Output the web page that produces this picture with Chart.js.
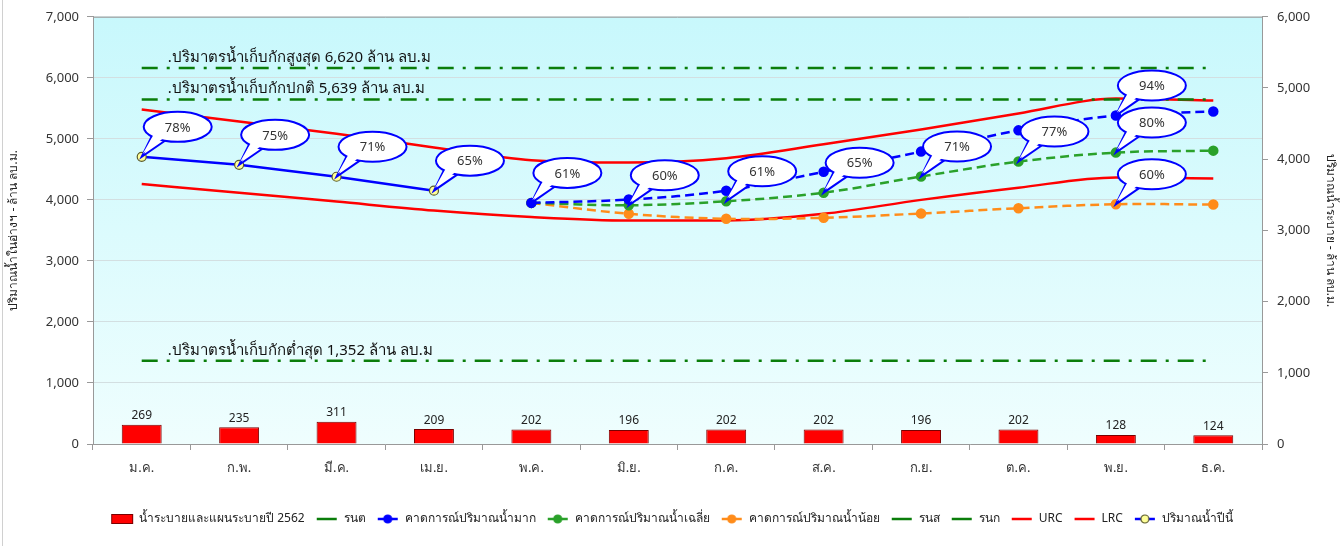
<!DOCTYPE html>
<html>
<head>
<meta charset="utf-8">
<script src="https://cdn.jsdelivr.net/npm/chart.js@4.4.1/dist/chart.umd.min.js"></script>
<style>
html, body { margin: 0; padding: 0; background: #fff; }
#wrap { position: relative; width: 1344px; height: 546px; }
</style>
</head>
<body>
<div id="wrap"><canvas id="myChart"></canvas></div>
<script>
// months
const months = ['ม.ค.', 'ก.พ.', 'มี.ค.', 'เม.ย.', 'พ.ค.', 'มิ.ย.', 'ก.ค.', 'ส.ค.', 'ก.ย.', 'ต.ค.', 'พ.ย.', 'ธ.ค.']

// released water (right axis)
const released = [269, 235, 311, 209, 202, 196, 202, 202, 196, 202, 128, 124]

// storage (left axis)
const thisYear     = [4705, 4574, 4379, 4151, null, null, null, null, null, null, null, null]
const highForecast = [null, null, null, null, 3951, 4005, 4151, 4460, 4791, 5139, 5383, 5448]
const avgForecast  = [null, null, null, null, 3951, 3912, 3977, 4118, 4384, 4628, 4775, 4807]
const lowForecast  = [null, null, null, null, 3951, 3772, 3690, 3707, 3777, 3863, 3929, 3923]
const urc = [5481, 5284, 5084, 4860, 4651, 4612, 4683, 4911, 5155, 5416, 5660, 5628]
const lrc = [4260, 4118, 3972, 3826, 3720, 3663, 3663, 3772, 4000, 4200, 4367, 4351]

// reference storage lines
const minLine    = [1365, 1365, 1365, 1365, 1365, 1365, 1365, 1365, 1365, 1365, 1365, 1365]
const maxLine    = [6160, 6160, 6160, 6160, 6160, 6160, 6160, 6160, 6160, 6160, 6160, 6160]
const normalLine = [5645, 5645, 5645, 5645, 5645, 5645, 5645, 5645, 5645, 5645, 5645, 5645]
const minText    = '.ปริมาตรน้ำเก็บกักต่ำสุด 1,352 ล้าน ลบ.ม'
const maxText    = '.ปริมาตรน้ำเก็บกักสูงสุด 6,620 ล้าน ลบ.ม'
const normalText = '.ปริมาตรน้ำเก็บกักปกติ 5,639 ล้าน ลบ.ม'

// percentage callouts
const pctThisYear = ['78%', '75%', '71%', '65%', null, null, null, null, null, null, null, null]
const pctHigh     = [null, null, null, null, null, null, null, null, null, null, '94%', null]
const pctAvg      = [null, null, null, null, '61%', '60%', '61%', '65%', '71%', '77%', '80%', null]
const pctLow      = [null, null, null, null, null, null, null, null, null, null, '60%', null]

const blueColor = '#0000ff'
const greenColor = '#2aa12a'
const orangeColor = '#ff8c1a'
const redColor = '#ff0000'
const refColor = '#0a7d0a'
const refDash = [16, 9, 3, 9]

Chart.defaults.font.family = "'Noto Sans', 'DejaVu Sans', sans-serif"
Chart.defaults.color = '#333'

function lineIcon(color, dash, fill, border) {
	var c = document.createElement('canvas')
	c.width = 22
	c.height = 12
	var g = c.getContext('2d')
	g.strokeStyle = color
	g.lineWidth = 2.5
	g.setLineDash(dash || [])
	g.beginPath()
	g.moveTo(1, 6)
	g.lineTo(21, 6)
	g.stroke()
	if (fill) {
		g.setLineDash([])
		g.beginPath()
		g.arc(11, 6, 4, 0, Math.PI * 2)
		g.fillStyle = fill
		g.fill()
		g.lineWidth = 1.2
		g.strokeStyle = border || fill
		g.stroke()
	}
	return c
}

function barIcon() {
	var c = document.createElement('canvas')
	c.width = 24
	c.height = 12
	var g = c.getContext('2d')
	g.fillStyle = redColor
	g.fillRect(1, 1, 22, 10)
	g.strokeStyle = '#7a0000'
	g.lineWidth = 1
	g.strokeRect(1.5, 1.5, 21, 9)
	return c
}

function refDataset(label, data, text) {
	return {
		type: 'line', label: label, data: data, yAxisID: 'y',
		borderColor: refColor, borderWidth: 2.5, borderDash: refDash,
		pointRadius: 0, fill: false, tension: 0,
		refText: text, legendIcon: lineIcon(refColor)
	}
}

function forecastDataset(label, data, color, pct) {
	return {
		type: 'line', label: label, data: data, yAxisID: 'y',
		borderColor: color, backgroundColor: color, borderWidth: 2.5, borderDash: [9, 5],
		pointRadius: 4, pointBackgroundColor: color, pointBorderColor: color,
		fill: false, tension: 0.35, spanGaps: false,
		pct: pct, legendIcon: lineIcon(color, [], color)
	}
}

// plot background + frame
const bgPlugin = {
	id: 'bgPlugin',
	beforeDraw(chart) {
		var ctx = chart.ctx
		var a = chart.chartArea
		ctx.save()
		var grad = ctx.createLinearGradient(0, a.top, 0, a.bottom)
		grad.addColorStop(0, '#c8f8fc')
		grad.addColorStop(1, '#effefe')
		ctx.fillStyle = grad
		ctx.fillRect(a.left, a.top, a.right - a.left, a.bottom - a.top)
		ctx.strokeStyle = '#d0d0d0'
		ctx.lineWidth = 1
		ctx.beginPath()
		ctx.moveTo(2.5, 0)
		ctx.lineTo(2.5, chart.height)
		ctx.stroke()
		ctx.restore()
	},
	afterDraw(chart) {
		var ctx = chart.ctx
		var a = chart.chartArea
		ctx.save()
		ctx.strokeStyle = '#a0a0a0'
		ctx.lineWidth = 1
		ctx.beginPath()
		ctx.moveTo(a.left, a.top + 0.5)
		ctx.lineTo(a.right, a.top + 0.5)
		ctx.stroke()
		ctx.restore()
	}
}

// bar values, reference labels and callouts
const labelPlugin = {
	id: 'labelPlugin',
	afterDatasetsDraw(chart) {
		var ctx = chart.ctx
		ctx.save()
		chart.data.datasets.forEach(function(ds, i) {
			var meta = chart.getDatasetMeta(i)
			if (ds.type === 'bar') {
				ctx.font = "12px 'Noto Sans', 'DejaVu Sans', sans-serif"
				ctx.fillStyle = '#222'
				ctx.textAlign = 'center'
				ctx.textBaseline = 'bottom'
				meta.data.forEach(function(el, j) {
					ctx.fillText(ds.data[j], el.x, el.y - 3)
				})
			}
			if (ds.refText) {
				var p = meta.data[0]
				ctx.font = "15px 'Noto Sans', 'DejaVu Sans', sans-serif"
				ctx.fillStyle = '#111'
				ctx.textAlign = 'left'
				ctx.textBaseline = 'alphabetic'
				ctx.fillText(ds.refText, p.x + 26, p.y - 6)
			}
		})
		chart.data.datasets.forEach(function(ds, i) {
			if (!ds.pct) return
			var meta = chart.getDatasetMeta(i)
			meta.data.forEach(function(el, j) {
				if (!ds.pct[j]) return
				drawBubble(ctx, el.x, el.y, ds.pct[j])
			})
		})
		ctx.restore()
	}
}

function drawBubble(ctx, px, py, text) {
	var cx = px + 36, cy = py - 30, rx = 34, ry = 15
	var a1 = 112 * Math.PI / 180, a2 = 140 * Math.PI / 180
	var b1x = cx + rx * Math.cos(a1), b1y = cy + ry * Math.sin(a1)
	var b2x = cx + rx * Math.cos(a2), b2y = cy + ry * Math.sin(a2)
	ctx.lineWidth = 2
	ctx.strokeStyle = blueColor
	ctx.fillStyle = '#ffffff'
	ctx.beginPath()
	ctx.moveTo(b1x, b1y)
	ctx.lineTo(px, py)
	ctx.lineTo(b2x, b2y)
	ctx.closePath()
	ctx.fill()
	ctx.stroke()
	ctx.beginPath()
	ctx.ellipse(cx, cy, rx, ry, 0, 0, Math.PI * 2)
	ctx.fill()
	ctx.stroke()
	ctx.beginPath()
	ctx.moveTo(b1x - 1, b1y - 3)
	ctx.lineTo(px + 1, py - 3)
	ctx.lineTo(b2x + 2, b2y - 2)
	ctx.closePath()
	ctx.fill()
	ctx.font = "13px 'Noto Sans', 'DejaVu Sans', sans-serif"
	ctx.fillStyle = '#333'
	ctx.textAlign = 'center'
	ctx.textBaseline = 'middle'
	ctx.fillText(text, cx, cy + 1)
}

var ctx = document.getElementById('myChart')

var waterChart = new Chart(ctx, {
	type: 'bar',
	data: {
		labels: months,
		datasets: [
			{
				type: 'bar', label: 'น้ำระบายและแผนระบายปี 2562', data: released, yAxisID: 'y2',
				backgroundColor: redColor, borderColor: '#7a0000', borderWidth: 1,
				barPercentage: 0.41, categoryPercentage: 1, legendIcon: barIcon()
			},
			refDataset('รนต', minLine, minText),
			forecastDataset('คาดการณ์ปริมาณน้ำมาก', highForecast, blueColor, pctHigh),
			forecastDataset('คาดการณ์ปริมาณน้ำเฉลี่ย', avgForecast, greenColor, pctAvg),
			forecastDataset('คาดการณ์ปริมาณน้ำน้อย', lowForecast, orangeColor, pctLow),
			refDataset('รนส', maxLine, maxText),
			refDataset('รนก', normalLine, normalText),
			{
				type: 'line', label: 'URC', data: urc, yAxisID: 'y',
				borderColor: redColor, borderWidth: 2.5, pointRadius: 0, fill: false,
				cubicInterpolationMode: 'monotone', legendIcon: lineIcon(redColor)
			},
			{
				type: 'line', label: 'LRC', data: lrc, yAxisID: 'y',
				borderColor: redColor, borderWidth: 2.5, pointRadius: 0, fill: false,
				cubicInterpolationMode: 'monotone', legendIcon: lineIcon(redColor)
			},
			{
				type: 'line', label: 'ปริมาณน้ำปีนี้', data: thisYear, yAxisID: 'y',
				borderColor: blueColor, borderWidth: 2.5, tension: 0,
				pointRadius: 4.5, pointBackgroundColor: '#ffff99', pointBorderColor: '#5a5a2a', pointBorderWidth: 1.2,
				fill: false, pct: pctThisYear, legendIcon: lineIcon(blueColor, [], '#ffff99', '#5a5a2a')
			}
		]
	},
	options: {
		responsive: true,
		maintainAspectRatio: false,
		animation: false,
		layout: { padding: { top: 12, bottom: 11, left: 0, right: 0 } },
		plugins: {
			legend: {
				position: 'bottom',
				labels: {
					usePointStyle: true,
					pointStyleWidth: 22,
					boxHeight: 12,
					padding: 11,
					color: '#222',
					font: { size: 12 },
					generateLabels: function(chart) {
						return chart.data.datasets.map(function(ds, i) {
							return {
								text: ds.label, pointStyle: ds.legendIcon, datasetIndex: i,
								fillStyle: 'transparent', strokeStyle: 'transparent', lineWidth: 0,
								hidden: false, fontColor: '#222'
							}
						})
					}
				}
			},
			tooltip: { enabled: false }
		},
		scales: {
			x: {
				afterFit: function(scale) { scale.height = 58 },
				grid: { display: true, drawOnChartArea: false, offset: true, tickLength: 6, color: '#999' },
				border: { color: '#999' },
				ticks: { padding: 10, color: '#333', font: { size: 13 } }
			},
			y: {
				position: 'left',
				min: 0, max: 7000,
				afterFit: function(scale) { scale.width = 93 },
				ticks: {
					stepSize: 1000, padding: 8, color: '#333', font: { size: 13 },
					callback: function(v) { return v.toLocaleString('en-US') }
				},
				grid: { color: '#d3dfe1', tickColor: '#999', tickLength: 6 },
				border: { color: '#999' },
				title: {
					display: true, text: 'ปริมาณน้ำในอ่างฯ - ล้าน ลบ.ม.',
					color: '#222', font: { size: 12 }, padding: { top: 6, bottom: 0 }
				}
			},
			y2: {
				position: 'right',
				min: 0, max: 6000,
				afterFit: function(scale) { scale.width = 82 },
				ticks: {
					stepSize: 1000, padding: 9, color: '#333', font: { size: 13 },
					callback: function(v) { return v.toLocaleString('en-US') }
				},
				grid: { drawOnChartArea: false, tickColor: '#999', tickLength: 6 },
				border: { color: '#999' },
				title: {
					display: true, text: 'ปริมาณน้ำระบาย - ล้าน ลบ.ม.',
					color: '#222', font: { size: 12 }, padding: { top: 6, bottom: 0 }
				}
			}
		}
	},
	plugins: [bgPlugin, labelPlugin]
});
</script>
</body>
</html>
